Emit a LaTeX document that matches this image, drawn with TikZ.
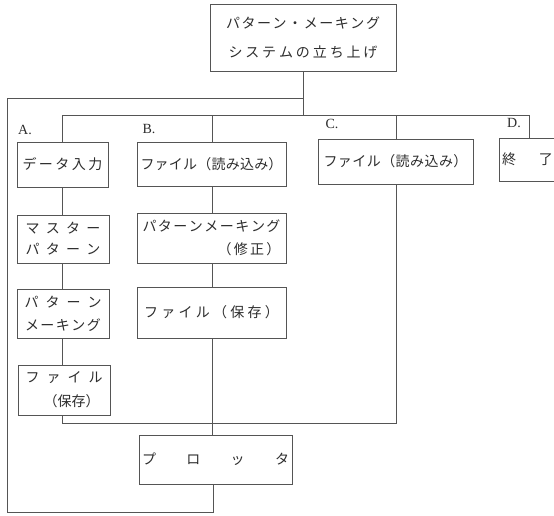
\documentclass[tikz,border=0pt]{standalone}
\usepackage{fontspec}
\setmainfont{Liberation Serif}
\newfontfamily\jp{Noto Sans CJK JP}
\definecolor{linec}{RGB}{85,85,85}
\definecolor{txtc}{RGB}{45,45,45}
\ExplSyntaxOn
\bool_new:N \l_my_first_bool
\NewDocumentCommand\spread{m m}{
  \hbox_to_wd:nn {#1} {
    \bool_set_true:N \l_my_first_bool
    \tl_map_inline:nn {#2} {
      \bool_if:NF \l_my_first_bool { \hfil }
      \bool_set_false:N \l_my_first_bool
      ##1
    }
  }
}
\ExplSyntaxOff
\begin{document}
\begin{tikzpicture}[x=1pt,y=-1pt,
  box/.style={draw=linec, line width=0.8pt, inner sep=0pt, text=txtc,
    font=\jp\fontsize{14}{23}\selectfont, align=center},
  lbl/.style={text=txtc, font=\fontsize{14}{16}\selectfont, inner sep=0pt},
  conn/.style={draw=linec, line width=0.8pt}]
\useasboundingbox (0,0) rectangle (554,515);
\fill[white] (0,0) rectangle (554,515);
\clip (0,0) rectangle (554,515);

% boxes
\node[box, minimum width=186pt, minimum height=67pt] (top) at (303,37.5)
  {\spread{154pt}{パターン・メーキング}\\[6pt]\spread{149pt}{システムの立ち上げ}};

\node[box, minimum width=91pt, minimum height=45pt] (a1) at (62.5,164.5)
  {\spread{80pt}{データ入力}};
\node[box, minimum width=92pt, minimum height=48pt] (a2) at (63,239)
  {\spread{75pt}{マスター}\\[-2pt]\spread{75pt}{パターン}};
\node[box, minimum width=92pt, minimum height=49pt] (a3) at (63,313.5)
  {\spread{77pt}{パターン}\\\spread{76pt}{メーキング}};
\node[box, minimum width=92pt, minimum height=50pt] (a4) at (64,390)
  {\spread{77pt}{ファイル}\\[1pt]\hspace*{13pt}\spread{54pt}{（保存）}};

\node[box, minimum width=149pt, minimum height=44pt] (b1) at (211.5,164)
  {\spread{142pt}{ファイル（読み込み）}};
\node[box, minimum width=149pt, minimum height=50pt, align=right] (b2) at (211.5,238)
  {\spread{138pt}{パターンメーキング}\\\spread{63pt}{（修正）}};
\node[box, minimum width=149pt, minimum height=51pt] (b3) at (211.5,312.5)
  {\spread{135pt}{ファイル（保存）}};

\node[box, minimum width=155pt, minimum height=45pt] (c1) at (395.5,161.5)
  {\spread{144pt}{ファイル（読み込み）}};

\node[box, minimum width=101pt, minimum height=43pt] (d1) at (549.5,159.5)
  {\spread{51pt}{終了}\hspace*{44pt}};

\node[box, minimum width=153pt, minimum height=49pt] (plot) at (215.5,459.5)
  {\spread{147pt}{プロッタ}};

% labels
\node[lbl] (la) at (25,130) {A.};
\node[lbl] (lb) at (149,129) {B.};
\node[lbl] (lc) at (332,124) {C.};
\node[lbl] (ld) at (514,123) {D.};

% junction coordinates
\coordinate (j0) at (303,98);
\coordinate (lt) at (7,98);
\coordinate (lbot) at (7,512);
\coordinate (pb) at (213,512);
\coordinate (busA) at (62,115);
\coordinate (busB) at (212,115);
\coordinate (busC) at (396,115);
\coordinate (busD) at (529,115);
\coordinate (join) at (396,423);

% connectors
\draw[conn] (top.south) -- (top.south |- busD);
\draw[conn] (j0) -- (lt) -- (lbot) -- (pb) -- (pb |- plot.south);
\draw[conn] (busA) -- (busD);
\draw[conn] (busA) -- (busA |- a1.north);
\draw[conn] (busB) -- (busB |- b1.north);
\draw[conn] (busC) -- (busC |- c1.north);
\draw[conn] (busD) -- (busD |- d1.north);

\draw[conn] (a1.south -| busA) -- (a2.north -| busA);
\draw[conn] (a2.south -| busA) -- (a3.north -| busA);
\draw[conn] (a3.south -| busA) -- (a4.north -| busA);
\draw[conn] (a4.south -| busA) -- (busA |- join) -- (join) -- (c1.south -| join);

\draw[conn] (b1.south -| busB) -- (b2.north -| busB);
\draw[conn] (b2.south -| busB) -- (b3.north -| busB);
\draw[conn] (b3.south -| busB) -- (plot.north -| busB);
\end{tikzpicture}
\end{document}
